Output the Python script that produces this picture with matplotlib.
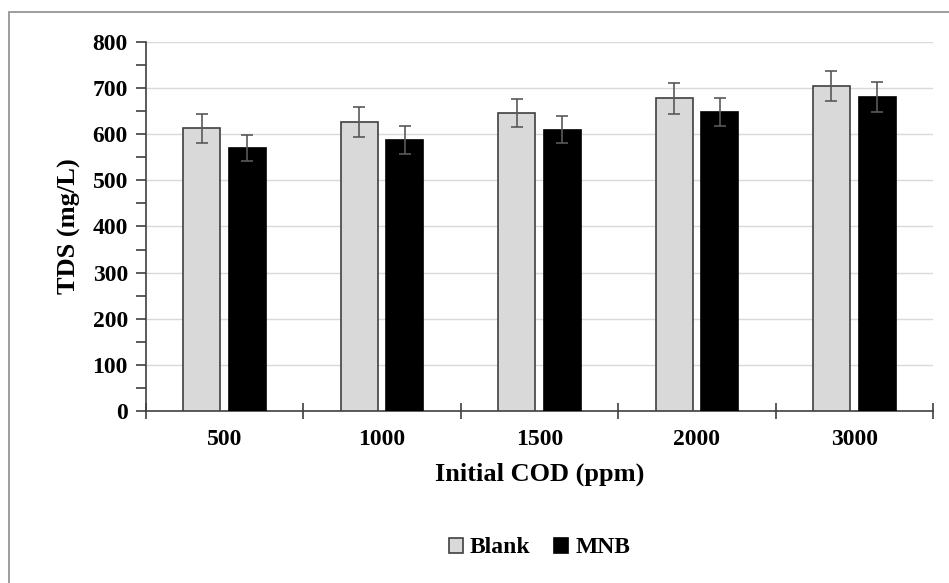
import numpy as np
import matplotlib
matplotlib.use("Agg")
import matplotlib.pyplot as plt
from matplotlib.patches import Rectangle
from matplotlib.ticker import MultipleLocator

# Data
categories = ["500", "1000", "1500", "2000", "3000"]
blank = [613, 627, 646, 678, 705]
blank_err = [31, 33, 31, 34, 33]
mnb = [570, 587, 610, 648, 681]
mnb_err = [29, 30, 30, 30, 33]

plt.rcParams['font.family'] = ['Liberation Serif', 'DejaVu Serif']
plt.rcParams['font.weight'] = 'bold'

fig = plt.figure(figsize=(9.49, 5.83), dpi=100)
ax = fig.add_axes([0.1538, 0.295, 0.9831 - 0.1538, 0.928 - 0.295])

# outer frame of the picture
fig.patches.append(Rectangle((9 / 949, -0.1), 1.2, 1 - 12 / 583 + 0.1,
                             transform=fig.transFigure, fill=False,
                             edgecolor='#8c8c8c', linewidth=1.2))

x = np.arange(len(categories))
w = 0.235
off = 0.145
err_kw = dict(ecolor='#595959', elinewidth=1.2, capsize=4.5, capthick=1.2)

ax.bar(x - off, blank, w, yerr=blank_err, color='#d9d9d9', edgecolor='#404040',
       linewidth=1.2, label='Blank', error_kw=err_kw, zorder=3)
ax.bar(x + off, mnb, w, yerr=mnb_err, color='black', edgecolor='black',
       linewidth=1.2, label='MNB', error_kw=err_kw, zorder=3)

ax.set_xlim(-0.5, len(categories) - 0.5)
ax.set_ylim(0, 800)
ax.yaxis.set_major_locator(MultipleLocator(100))
ax.yaxis.set_minor_locator(MultipleLocator(50))
ax.grid(axis='y', color='#d9d9d9', linewidth=1.0, zorder=0)
ax.set_axisbelow(True)

ax.set_xticks(x)
ax.set_xticklabels(categories)
ax.set_xticks(np.arange(len(categories) + 1) - 0.5, minor=True)
ax.tick_params(axis='x', which='major', length=0, pad=13, labelsize=17)
ax.tick_params(axis='x', which='minor', direction='inout', length=12, width=1.2, color='#404040')
ax.tick_params(axis='y', which='both', direction='out', length=7, width=1.2,
               color='#404040', labelsize=17, pad=6)

for s in ['top', 'right']:
    ax.spines[s].set_visible(False)
for s in ['left', 'bottom']:
    ax.spines[s].set_color('#404040')
    ax.spines[s].set_linewidth(1.2)

ax.set_xlabel('Initial COD (ppm)', fontsize=19, fontweight='bold', labelpad=9)
ax.set_ylabel('TDS (mg/L)', fontsize=19, fontweight='bold', labelpad=8)

leg = ax.legend(loc='upper center', bbox_to_anchor=(0.5, -0.285), ncol=2, frameon=False,
                fontsize=17, handlelength=0.6, handleheight=0.6, handletextpad=0.3,
                columnspacing=1.0)

fig.savefig('out.png', dpi=100, facecolor='white')
